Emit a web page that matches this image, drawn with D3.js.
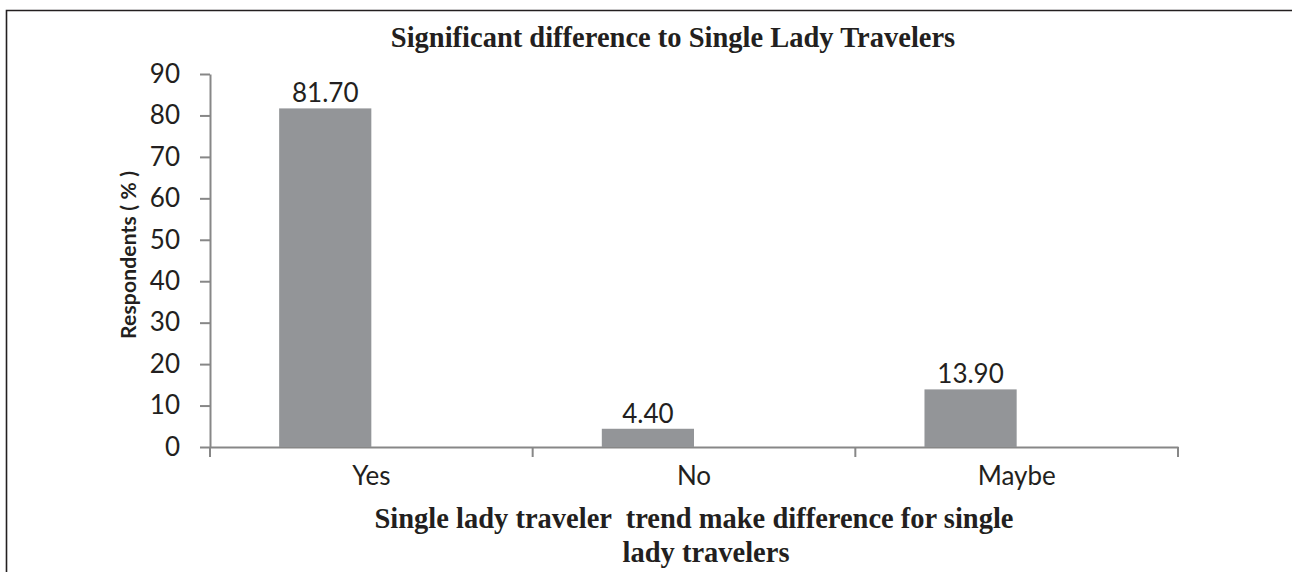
<!DOCTYPE html>
<html>
<head>
<meta charset="utf-8">
<script src="https://d3js.org/d3.v7.min.js"></script>
<style>
  body { margin: 0; background: #fff; }
  svg { display: block; }
</style>
</head>
<body>
<div id="chart"></div>
<script>
// values
const categories = ["Yes", "No", "Maybe"]
const values = [81.70, 4.40, 13.90]
const yTicks = [0, 10, 20, 30, 40, 50, 60, 70, 80, 90]
// the original excel chart has a second, empty series next to each bar
const seriesKeys = ["s1", "s2"]

const width = 1292
const height = 572
const margin = { top: 74, right: 114, bottom: 125, left: 210 }

const svg = d3.select("#chart")
    .append("svg")
    .attr("width", width)
    .attr("height", height)

// outer frame (only top & left edges fall inside the picture)
svg.append("path")
    .attr("d", `M6.5,${height + 5} V10.5 H${width + 5}`)
    .attr("fill", "none")
    .attr("stroke", "#231f20")
    .attr("stroke-width", 1.6)

const x0 = d3.scaleBand()
    .domain(categories)
    .range([margin.left, width - margin.right])
    .padding(0)

const x1 = d3.scaleBand()
    .domain(seriesKeys)
    .range([0, x0.bandwidth()])
    .paddingInner(0)
    .paddingOuter(0.75)

const y = d3.scaleLinear()
    .domain([0, 90])
    .range([height - margin.bottom, margin.top])

const axisColor = "#878787"
const textColor = "#231f20"
const fontSize = "26px"

// y axis
const yAxis = svg.append("g")
    .attr("transform", `translate(${margin.left},0)`)
    .call(d3.axisLeft(y).tickValues(yTicks).tickSize(10).tickPadding(20).tickSizeOuter(0))
yAxis.select(".domain").attr("stroke", axisColor).attr("stroke-width", 2)
yAxis.selectAll(".tick line").attr("stroke", axisColor).attr("stroke-width", 2)
yAxis.selectAll(".tick text")
    .attr("fill", textColor)
    .style("font-family", "Lato, sans-serif")
    .style("font-size", fontSize)

// x axis labels centred on categories
const xAxis = svg.append("g")
    .attr("transform", `translate(0,${y(0)})`)
    .call(d3.axisBottom(x0).tickSize(0).tickPadding(20).tickSizeOuter(0))
xAxis.select(".domain").attr("stroke", axisColor).attr("stroke-width", 2)
xAxis.selectAll(".tick text")
    .attr("fill", textColor)
    .style("font-family", "Lato, sans-serif")
    .style("font-size", fontSize)

// category boundary ticks
const bounds = categories.map(c => x0(c)).concat([x0.range()[1]])
xAxis.selectAll(".bound")
    .data(bounds)
    .enter().append("line")
    .attr("class", "bound")
    .attr("x1", d => d).attr("x2", d => d)
    .attr("y1", 0).attr("y2", 10)
    .attr("stroke", axisColor)
    .attr("stroke-width", 2)

// bars
const bars = svg.append("g")
bars.selectAll("rect")
    .data(values)
    .enter().append("rect")
    .attr("x", (d, i) => x0(categories[i]) + x1("s1"))
    .attr("y", d => y(d))
    .attr("width", x1.bandwidth())
    .attr("height", d => y(0) - y(d))
    .attr("fill", "#939598")

// value labels
bars.selectAll("text")
    .data(values)
    .enter().append("text")
    .attr("x", (d, i) => x0(categories[i]) + x1("s1") + x1.bandwidth() / 2)
    .attr("y", d => y(d) - 6)
    .attr("text-anchor", "middle")
    .attr("fill", textColor)
    .style("font-family", "Lato, sans-serif")
    .style("font-size", fontSize)
    .text(d => d.toFixed(2))

// title
svg.append("text")
    .attr("x", 673)
    .attr("y", 47)
    .attr("text-anchor", "middle")
    .attr("fill", textColor)
    .style("font-family", "'Liberation Serif', 'Times New Roman', serif")
    .style("font-weight", "bold")
    .style("font-size", "28.5px")
    .text("Significant difference to Single Lady Travelers")

// y axis title
svg.append("text")
    .attr("transform", "translate(136,255) rotate(-90)")
    .attr("text-anchor", "middle")
    .attr("fill", textColor)
    .attr("textLength", 168)
    .attr("lengthAdjust", "spacing")
    .style("font-family", "Lato, sans-serif")
    .style("font-weight", "bold")
    .style("font-size", "21px")
    .text("Respondents ( % )")

// x axis title, two lines
const xTitle = svg.append("text")
    .attr("text-anchor", "middle")
    .attr("fill", textColor)
    .style("font-family", "'Liberation Serif', 'Times New Roman', serif")
    .style("font-weight", "bold")
    .style("font-size", "28.5px")
    .style("white-space", "pre")
xTitle.append("tspan").attr("x", 694).attr("y", 528).text("Single lady traveler  trend make difference for single")
xTitle.append("tspan").attr("x", 706).attr("y", 562).text("lady travelers")
</script>
</body>
</html>
